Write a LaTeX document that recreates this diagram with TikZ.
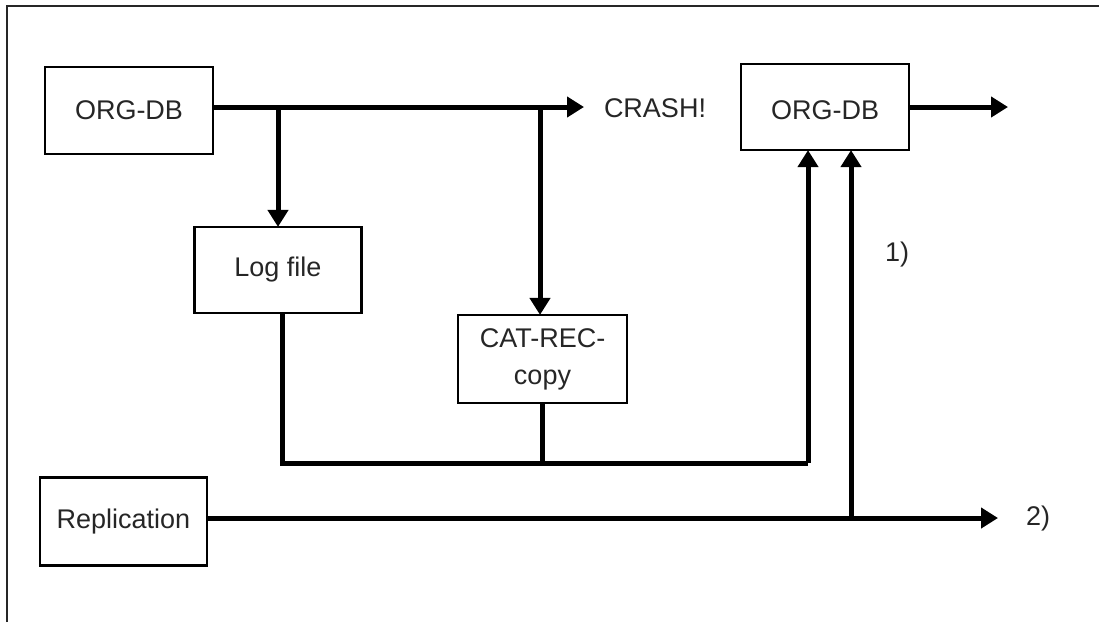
\documentclass[tikz,border=0pt]{standalone}
\usepackage{fontspec}
\setmainfont{Liberation Sans}
\usetikzlibrary{arrows.meta}
\begin{document}
\begin{tikzpicture}[x=1pt,y=-1pt,
  box/.style={draw, line width=2.2pt, minimum width=#1, inner sep=0pt, font=\fontsize{27}{37}\selectfont, align=center, text=black!85},
  lbl/.style={font=\fontsize{27}{37}\selectfont, inner sep=0pt, text=black!85},
  conn/.style={line width=5pt},
  arr/.style={conn, -{Triangle[length=17pt,width=20pt]}, shorten >=-1pt}
]
\useasboundingbox (0,0) rectangle (1099,622);
\draw[line width=2.5pt, black!85] (7,622) -- (7,6) -- (1099,6);

\node[box=168pt, minimum height=87pt] (org1) at (129,110.5) {ORG-DB};
\node[box=167pt, minimum height=86pt] (log) at (278,270) {Log file};
\node[box=169pt, minimum height=88pt] (cat) at (542.5,359) {CAT-REC-\\copy};
\node[box=168pt, minimum height=86pt, text height=25pt] (org2) at (825,107) {ORG-DB};
\node[box=167pt, minimum height=88pt] (rep) at (123.5,521.5) {Replication};

\node[lbl] (crash) at (655,108) {CRASH!};
\node[lbl] (one) at (897,255) {1)};
\node[lbl] (two) at (1038,518) {2)};

\coordinate (cend) at (583,107);
\coordinate (j1) at (278,107);
\coordinate (j2) at (540,107);
\coordinate (b1) at (282,463);
\coordinate (b2) at (808,463);
\coordinate (r1) at (851,518);
\coordinate (r2) at (997,518);
\coordinate (oend) at (1007,107);

\draw[arr] (org1.east |- cend) -- (cend);
\draw[arr] (j1) -- (log.north);
\draw[arr] (j2) -- (j2 |- cat.north);
\draw[conn] (b1 |- log.south) -- (b1) -- (b2);
\draw[arr] (b2) -- (b2 |- org2.south);
\draw[conn] (cat.south) -- (cat.south |- b1);
\draw[arr] (rep.east |- r1) -- (r2);
\draw[arr] (r1) -- (r1 |- org2.south);
\draw[arr] (org2.east) -- (oend);
\end{tikzpicture}
\end{document}
